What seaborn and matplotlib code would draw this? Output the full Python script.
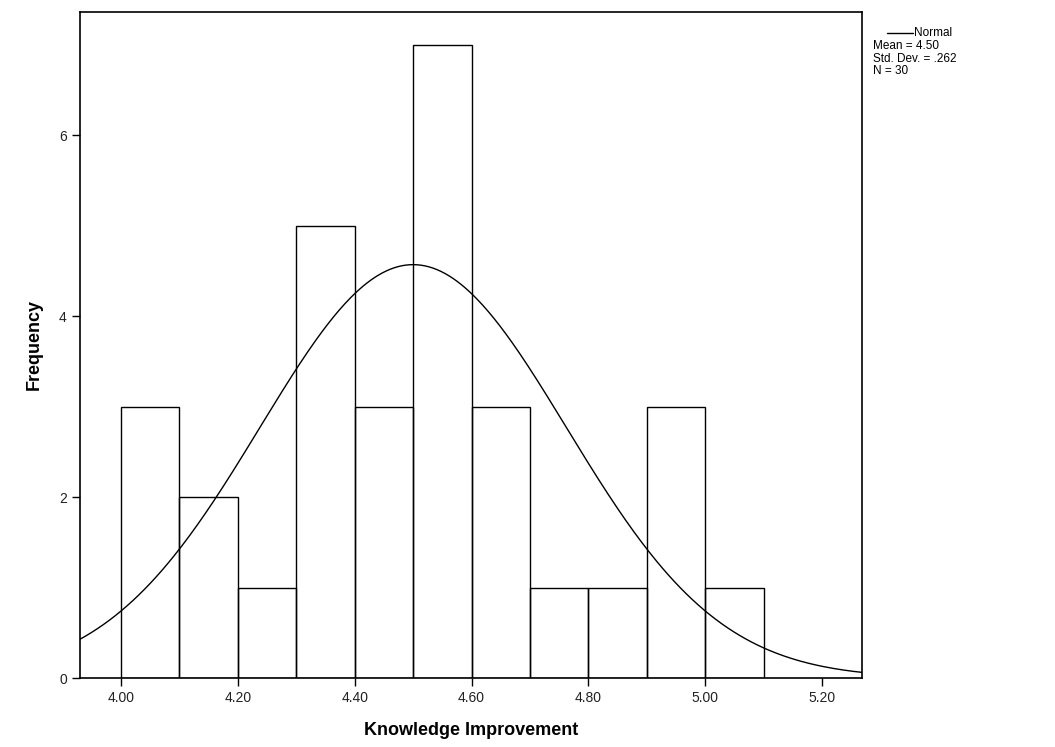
import numpy as np
import pandas as pd
import matplotlib
matplotlib.use("Agg")
import matplotlib.pyplot as plt
import seaborn as sns

# Data
bin_left = [4.0, 4.1, 4.2, 4.3, 4.4, 4.5, 4.6, 4.7, 4.8, 4.9, 5.0]
counts = [3, 2, 1, 5, 3, 7, 3, 1, 1, 3, 1]
mean_val = 4.50
std_val = 0.262
n_val = 30
x_ticks = [4.00, 4.20, 4.40, 4.60, 4.80, 5.00, 5.20]
x_tick_labels = ["4.00", "4.20", "4.40", "4.60", "4.80", "5.00", "5.20"]
y_ticks = [0, 2, 4, 6]
legend_lines = ["Mean = 4.50", "Std. Dev. = .262", "N = 30"]

sns.set_theme(style="white")
plt.rcParams['font.family'] = ['Liberation Sans', 'DejaVu Sans']
plt.rcParams['text.color'] = 'black'
plt.rcParams['axes.labelcolor'] = 'black'

fig = plt.figure(figsize=(10.55, 7.47), dpi=100)
ax = fig.add_axes([80/1055, 69/747, (862-80)/1055, (678-12)/747])

df = pd.DataFrame({"x": [b + 0.05 for b in bin_left], "w": counts})
sns.histplot(data=df, x="x", weights="w", binwidth=0.1, binrange=(4.0, 5.1),
             stat="count", fill=False, element="bars", color="black",
             linewidth=1.0, ax=ax)

bw = 0.1
xs = np.linspace(3.93, 5.27, 400)
ys = n_val * bw / (std_val * np.sqrt(2 * np.pi)) * np.exp(-0.5 * ((xs - mean_val) / std_val) ** 2)
sns.lineplot(x=xs, y=ys, color="black", linewidth=1.0, ax=ax)

ax.set_xlim(3.93, 5.268)
ax.set_ylim(0, 7.36)
ax.set_xticks(x_ticks)
ax.set_xticklabels(x_tick_labels)
ax.set_yticks(y_ticks)
ax.tick_params(axis="both", direction="out", length=6, width=1, color="black",
               labelsize=10, labelcolor="#222222", bottom=True, left=True)
for s in ax.spines.values():
    s.set_color("black")
    s.set_linewidth(1.2)
    s.set_visible(True)

ax.set_xlabel("Knowledge Improvement", fontsize=13, fontweight="bold", labelpad=12, color="black")
ax.set_ylabel("Frequency", fontsize=13, fontweight="bold", labelpad=12, color="black")

# legend text outside
fig.lines.append(plt.Line2D([887/1055, 913/1055], [1 - 33/747, 1 - 33/747],
                            transform=fig.transFigure, color="black", linewidth=1))
fig.text(914/1055, 1 - 33/747, "Normal", fontsize=8.5, va="center", ha="left")
for i, t in enumerate(legend_lines):
    fig.text(873/1055, 1 - (46 + 12.5 * i)/747, t, fontsize=8.5, va="center", ha="left")

fig.savefig("out.png", dpi=100, facecolor="white")
